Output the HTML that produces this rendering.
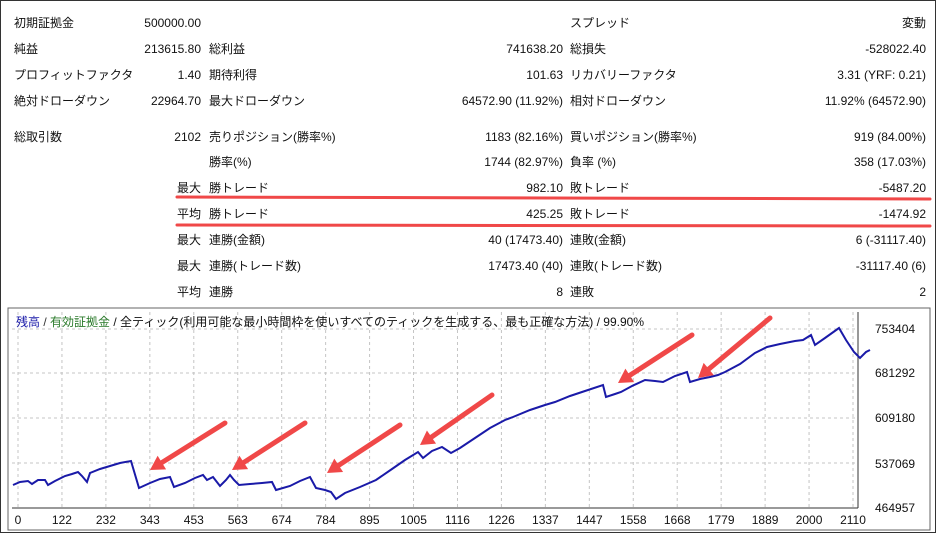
<!DOCTYPE html>
<html><head><meta charset="utf-8"><style>
body{margin:0;width:936px;height:533px;background:#fff;position:relative;overflow:hidden;font-family:"Liberation Sans","Noto Sans CJK JP",sans-serif;font-size:12px;color:#111}
.frame{position:absolute;left:0;top:0;width:934px;height:531px;border:1px solid #333}
.t{position:absolute;white-space:nowrap;line-height:14px}
.r{text-align:right}
</style></head><body>
<div class="frame"></div>
<div id="tbl"></div>
<svg style="position:absolute;left:0;top:0" width="936" height="533">
<rect x="8" y="308" width="922" height="222" fill="none" stroke="#666"/>
<g stroke="#c4c4c4" stroke-dasharray="3,3">
<line x1="12" y1="329" x2="858" y2="329"/><line x1="12" y1="373" x2="858" y2="373"/><line x1="12" y1="418" x2="858" y2="418"/><line x1="12" y1="463" x2="858" y2="463"/>
</g>
<g id="vg" stroke="#c4c4c4" stroke-dasharray="3,3"></g>
<line x1="12" y1="508" x2="858" y2="508" stroke="#333"/>
<line x1="858" y1="312" x2="858" y2="508" stroke="#333"/>
<polyline fill="none" stroke="#1a1aa8" stroke-width="2" points="13,485 20,482 28,481 32,484 38,480 45,480 48,485 55,481 65,476 72,474 78,472 82,476 87,482 90,473 100,469 110,466 120,463 131,461 139,488 150,483 160,479 170,477 174,487 185,483 195,478 203,475 207,480 213,477 220,486 226,480 230,475 234,480 239,485 250,484 262,483 272,482 276,490 290,486 300,481 310,477 316,488 325,490 331,492 336,499 345,493 360,487 376,480 392,469 405,460 418,452 423,458 432,451 442,447 451,453 460,448 475,438 490,428 505,420 513,417 530,410 545,405 555,402 570,396 585,391 603,385 606,397 615,394 621,392 632,386 645,380 655,381 663,382 675,376 687,372 690,382 700,379 710,377 718,375 725,372 740,364 755,353 767,347 780,344 795,341 803,340 811,335 815,345 825,338 839,328 846,340 854,352 860,358 866,352 870,350"/>
<g stroke="#f04848" stroke-width="5" stroke-linecap="round" fill="#f04848" id="arr"></g>
<line x1="177" y1="197" x2="930" y2="199" stroke="#f04848" stroke-width="3" stroke-linecap="round"/>
<line x1="177" y1="225" x2="930" y2="226" stroke="#f04848" stroke-width="3" stroke-linecap="round"/>
<g font-size="12" fill="#111">
<text x="875" y="333">753404</text><text x="875" y="377">681292</text><text x="875" y="422">609180</text><text x="875" y="468">537069</text><text x="875" y="512">464957</text>
</g>
<g font-size="12" fill="#111" text-anchor="middle" id="xl"></g>
<text x="16" y="326" font-size="12"><tspan fill="#1a1aa8">残高</tspan><tspan fill="#333"> / </tspan><tspan fill="#2a7a2a">有効証拠金</tspan><tspan fill="#111"> / 全ティック(利用可能な最小時間枠を使いすべてのティックを生成する、最も正確な方法) / 99.90%</tspan></text>
</svg>
<script>
var rows=[
[23,"初期証拠金","500000.00","","","スプレッド","変動"],
[49,"純益","213615.80","総利益","741638.20","総損失","-528022.40"],
[75,"プロフィットファクタ","1.40","期待利得","101.63","リカバリーファクタ","3.31 (YRF: 0.21)"],
[101,"絶対ドローダウン","22964.70","最大ドローダウン","64572.90 (11.92%)","相対ドローダウン","11.92% (64572.90)"],
[137,"総取引数","2102","売りポジション(勝率%)","1183 (82.16%)","買いポジション(勝率%)","919 (84.00%)"],
[162,"","","勝率(%)","1744 (82.97%)","負率 (%)","358 (17.03%)"],
[188,"","最大","勝トレード","982.10","敗トレード","-5487.20"],
[214,"","平均","勝トレード","425.25","敗トレード","-1474.92"],
[240,"","最大","連勝(金額)","40 (17473.40)","連敗(金額)","6 (-31117.40)"],
[266,"","最大","連勝(トレード数)","17473.40 (40)","連敗(トレード数)","-31117.40 (6)"],
[292,"","平均","連勝","8","連敗","2"]];
var h="";rows.forEach(function(r){var y=r[0]-7;
h+='<div class="t" style="left:14px;top:'+y+'px">'+r[1]+'</div>';
h+='<div class="t r" style="right:735px;top:'+y+'px">'+r[2]+'</div>';
h+='<div class="t" style="left:209px;top:'+y+'px">'+r[3]+'</div>';
h+='<div class="t r" style="right:373px;top:'+y+'px">'+r[4]+'</div>';
h+='<div class="t" style="left:570px;top:'+y+'px">'+r[5]+'</div>';
h+='<div class="t r" style="right:10px;top:'+y+'px">'+r[6]+'</div>';});
document.getElementById('tbl').innerHTML=h;
var xs=[0,122,232,343,453,563,674,784,895,1005,1116,1226,1337,1447,1558,1668,1779,1889,2000,2110];
var vg="",xl="";xs.forEach(function(v,i){var x=18+i*(835/19);
vg+='<line x1="'+x+'" y1="312" x2="'+x+'" y2="508"/>';
xl+='<text x="'+x+'" y="524">'+v+'</text>';});
document.getElementById('vg').innerHTML=vg;document.getElementById('xl').innerHTML=xl;
var A=[[225,423,150,470],[305,423,232,470],[400,425,327,473],[492,395,420,445],[692,335,618,383],[770,318,698,378]];
var a="";A.forEach(function(p){var dx=p[2]-p[0],dy=p[3]-p[1],L=Math.hypot(dx,dy),ux=dx/L,uy=dy/L;
var bx=p[2]-ux*14,by=p[3]-uy*14;
a+='<line x1="'+p[0]+'" y1="'+p[1]+'" x2="'+bx+'" y2="'+by+'"/>';
a+='<polygon stroke="none" points="'+p[2]+','+p[3]+' '+(bx-uy*8)+','+(by+ux*8)+' '+(bx+uy*8)+','+(by-ux*8)+'"/>';});
document.getElementById('arr').innerHTML=a;
</script>
</body></html>
